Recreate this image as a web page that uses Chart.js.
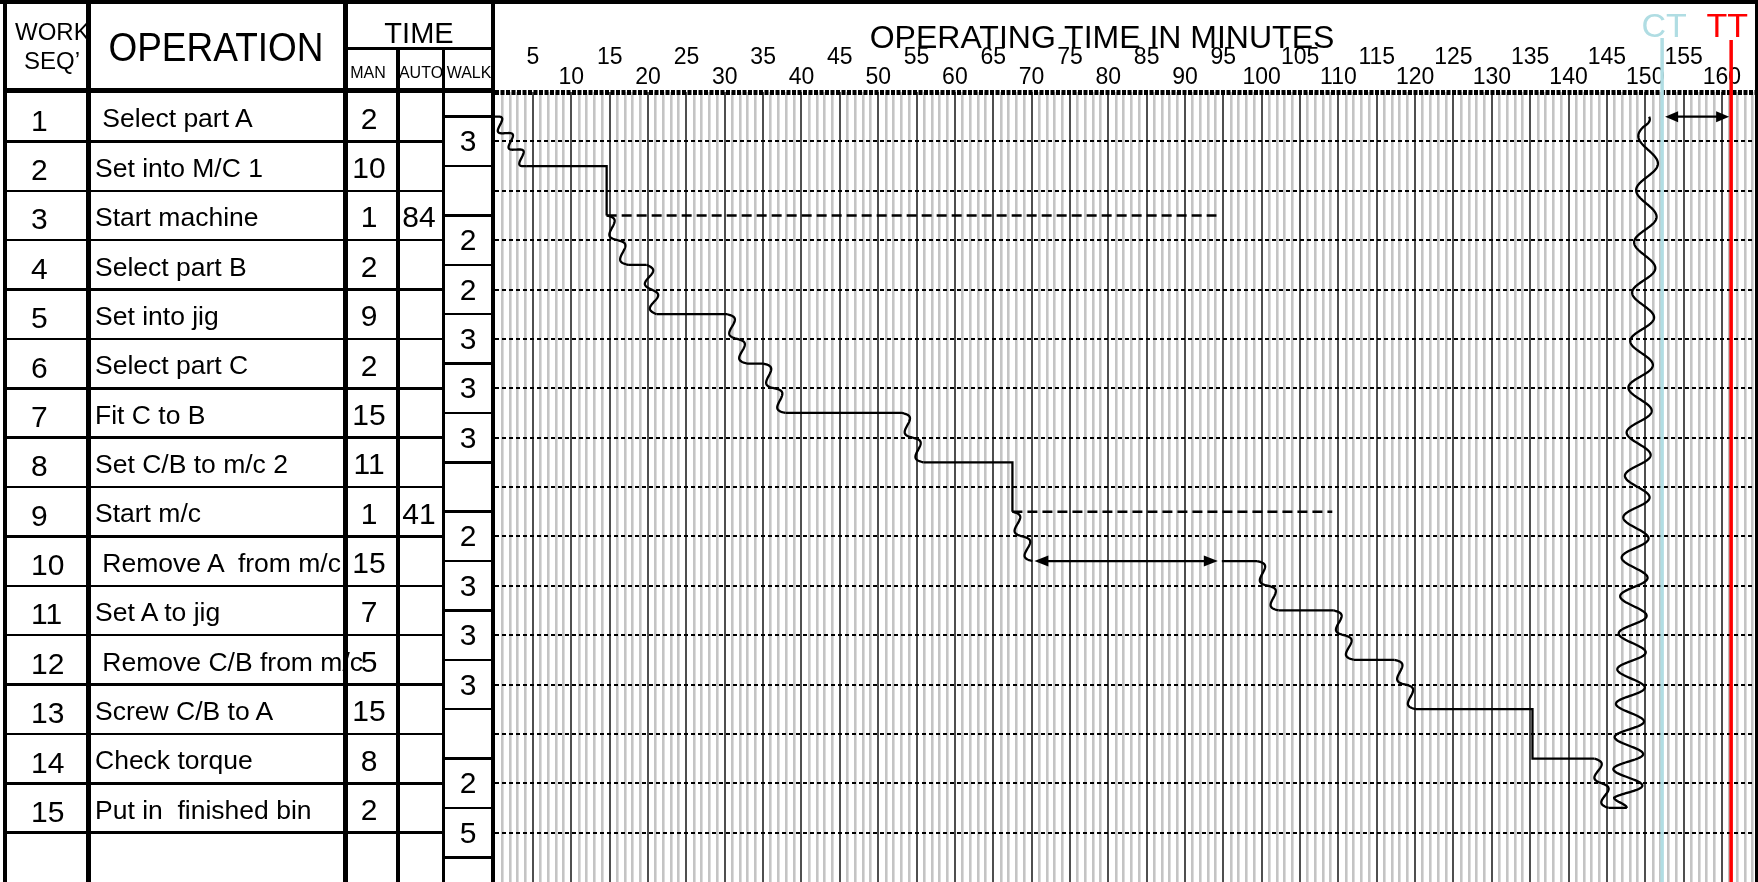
<!DOCTYPE html>
<html>
<head>
<meta charset="utf-8">
<title>Standard work combination sheet</title>
<script src="https://cdn.jsdelivr.net/npm/chart.js@4.4.1/dist/chart.umd.min.js"></script>
<style>
  html, body { margin: 0; padding: 0; background: #fff; }
  #sheet { position: relative; width: 1758px; height: 882px; overflow: hidden;
           font-family: "Liberation Sans", Arial, sans-serif; color: #000; }
  #chartWrap { position: absolute; left: 0; top: 0; width: 1758px; height: 882px; }
  #table { position: absolute; left: 0; top: 0; width: 1758px; height: 882px; }
  .t { position: absolute; white-space: pre; }
  .ln { position: absolute; background: #000; }
</style>
</head>
<body>
<div id="sheet">
  <div id="chartWrap"><canvas id="combChart"></canvas></div>
  <div id="table"></div>
</div>
<script>
// ---- work sequence table ----
const operations = [' Select part A', 'Set into M/C 1', 'Start machine', 'Select part B', 'Set into jig',
  'Select part C', 'Fit C to B', 'Set C/B to m/c 2', 'Start m/c', ' Remove A  from m/c', 'Set A to jig',
  ' Remove C/B from m/c', 'Screw C/B to A', 'Check torque', 'Put in  finished bin'];
const manTime = [2, 10, 1, 2, 9, 2, 15, 11, 1, 15, 7, 5, 15, 8, 2];
const autoTime = [null, null, 84, null, null, null, null, null, 41, null, null, null, null, null, null];
// walk boxes sit between row middles (box k spans row k+0.5 .. k+1.5)
const walkTime = [3, null, 2, 2, 3, 3, 3, null, 2, 3, 3, 3, null, 2, 5];

// ---- chart data (minutes / row positions) ----
const tickHigh = [5, 15, 25, 35, 45, 55, 65, 75, 85, 95, 105, 115, 125, 135, 145, 155];
const tickLow = [10, 20, 30, 40, 50, 60, 70, 80, 90, 100, 110, 120, 130, 140, 150, 160];

const pathMin = [0, 4.2, 14.6, 14.6, 17.4, 19.8, 21.1, 30.3, 32.9, 35, 37.9, 53.1, 55.9, 67.5, 67.5,
  70.1, 94.8, 99.4, 102.2, 109.4, 112, 117.3, 120.1, 135.3, 135.3, 143.4, 145.2, 147.6, 150.5];
const pathRow = [0.5, 1.5, 1.5, 2.5, 3.5, 3.5, 4.5, 4.5, 5.5, 5.5, 6.5, 6.5, 7.5, 7.5, 8.5,
  9.5, 9.5, 9.5, 10.5, 10.5, 11.5, 11.5, 12.5, 12.5, 13.5, 13.5, 14.5, 14.5, 0.5];
const pathKind = ['walk', 'man', 'drop', 'walk', 'man', 'walk', 'man', 'walk', 'man', 'walk', 'man',
  'walk', 'man', 'drop', 'walk', 'wait', 'man', 'walk', 'man', 'walk', 'man', 'walk', 'man', 'drop',
  'man', 'walk', 'man', 'return'];

const autoStart = [14.6, 67.5];
const autoEnd = [94.1, 109.2];
const autoRow = [2.5, 8.5];

const cycleTime = 152.2;
const taktTime = 161.2;
const gapRow = 0.5;

// ---- layout constants ----
const ROW_TOP = 92;
const ROW_H = 49.375;
const rowTop = k => ROW_TOP + k * ROW_H;
const FONT = '"Liberation Sans", Arial, sans-serif';

// ---- html table ----
const tableEl = document.getElementById('table');

function addText(text, x, cy, size, align, extra) {
  const d = document.createElement('div');
  d.className = 't';
  d.textContent = text;
  d.style.fontSize = size + 'px';
  d.style.lineHeight = size + 'px';
  d.style.top = (cy - size / 2) + 'px';
  if (align === 'center') {
    d.style.left = (x - 400) + 'px';
    d.style.width = '800px';
    d.style.textAlign = 'center';
  } else {
    d.style.left = x + 'px';
  }
  if (extra) Object.assign(d.style, extra);
  tableEl.appendChild(d);
}

function addLine(x, y, w, h) {
  const d = document.createElement('div');
  d.className = 'ln';
  d.style.left = x + 'px';
  d.style.top = y + 'px';
  d.style.width = w + 'px';
  d.style.height = h + 'px';
  tableEl.appendChild(d);
}

// header
addText('WORK', 15, 32, 24, 'left');
addText('SEQ\u2019', 52, 61, 24, 'center');
addText('OPERATION', 216, 47, 40, 'center', { transform: 'scaleX(0.925)' });
addText('TIME', 419, 33, 29, 'center');
addText('MAN', 368, 72.5, 16, 'center');
addText('AUTO', 421, 72.5, 16, 'center');
addText('WALK', 469, 72.5, 16, 'center');
addText('OPERATING TIME IN MINUTES', 1102, 37, 32, 'center');

// rows
operations.forEach((op, i) => {
  const cy = rowTop(i) + ROW_H / 2;
  addText(String(i + 1), 31, cy + 4, 30, 'left');
  addText(op, 95, cy + 2, 26.5, 'left');
  addText(String(manTime[i]), 369, cy + 2, 30, 'center');
  if (autoTime[i] !== null) addText(String(autoTime[i]), 419, cy + 2, 30, 'center');
});
walkTime.forEach((w, i) => {
  if (w !== null) addText(String(w), 468, rowTop(i) + ROW_H, 30, 'center');
});

// rules drawn over the text
addLine(0, 0, 1758, 4);
addLine(3, 0, 4, 882);
addLine(86, 0, 5, 882);
addLine(343, 0, 5, 882);
addLine(396, 48, 4, 834);
addLine(442, 48, 3, 834);
addLine(490.5, 0, 4.5, 882);
addLine(1755, 0, 3, 882);
addLine(3, 87.5, 490, 5);
addLine(348, 47, 143, 3);
for (let k = 1; k <= 15; k++) addLine(7, rowTop(k) - 1.25, 435, 2.5);
for (let k = 0; k <= 15; k++) addLine(445, rowTop(k) + ROW_H / 2 - 1.25, 46, 2.5);

// ---- drawing helpers ----
function drawWave(ctx, x0, y0, x1, y1, amp0, amp1, len0, len1, whole) {
  const dx = x1 - x0, dy = y1 - y0;
  const L = Math.hypot(dx, dy);
  const ux = dx / L, uy = dy / L;
  const nx = uy, ny = -ux;
  const steps = Math.max(30, Math.round(L * 1.5));
  const n = Math.max(1, Math.round(L / len0));
  let phase = 0;
  ctx.beginPath();
  ctx.moveTo(x0, y0);
  for (let i = 1; i <= steps; i++) {
    const t = i / steps;
    if (whole) phase = 2 * Math.PI * n * t;
    else phase += 2 * Math.PI * (L / steps) / (len0 + (len1 - len0) * t);
    const taper = whole ? 1 : Math.min(1, t * L / 10, (1 - t) * L / 10);
    const a = (amp0 + (amp1 - amp0) * t) * Math.sin(phase) * taper;
    ctx.lineTo(x0 + ux * L * t + nx * a, y0 + uy * L * t + ny * a);
  }
  ctx.stroke();
}

function drawArrow(ctx, x0, x1, y, headLen, headW) {
  ctx.beginPath();
  ctx.moveTo(x0 + headLen * 0.8, y);
  ctx.lineTo(x1 - headLen * 0.8, y);
  ctx.stroke();
  [[x0, 1], [x1, -1]].forEach(([x, dir]) => {
    ctx.beginPath();
    ctx.moveTo(x, y);
    ctx.lineTo(x + dir * headLen, y - headW);
    ctx.lineTo(x + dir * headLen, y + headW);
    ctx.closePath();
    ctx.fill();
  });
}

// walking (wavy), waiting (double arrow) parts of the path
const walkPlugin = {
  id: 'walkPath',
  afterDatasetsDraw(chart) {
    const pts = chart.getDatasetMeta(0).data;
    const ctx = chart.ctx;
    ctx.save();
    ctx.strokeStyle = '#000';
    ctx.fillStyle = '#000';
    ctx.lineWidth = 2.3;
    ctx.lineJoin = 'round';
    pathKind.forEach((kind, i) => {
      const a = pts[i], b = pts[i + 1];
      if (kind === 'walk') drawWave(ctx, a.x, a.y, b.x, b.y, 5.5, 5.5, 22, 22, true);
      else if (kind === 'return') drawWave(ctx, a.x, a.y, b.x, b.y, 15, 10, 30, 56, false);
      else if (kind === 'wait') drawArrow(ctx, a.x + 2, b.x - 4, a.y, 14, 5.5);
    });
    ctx.restore();
  }
};

// cycle time / takt time markers
const taktPlugin = {
  id: 'ctTt',
  afterDraw(chart) {
    const { ctx, chartArea, scales: { x, y } } = chart;
    const ctPx = x.getPixelForValue(cycleTime);
    const ttPx = x.getPixelForValue(taktTime);
    ctx.save();
    [[ctPx, '#b0dde3', 'CT', 38, 2], [ttPx, '#ff0000', 'TT', 40, -4]].forEach(([px, col, lab, top, dx]) => {
      ctx.strokeStyle = col;
      ctx.lineWidth = 3.5;
      ctx.beginPath();
      ctx.moveTo(px, top);
      ctx.lineTo(px, chartArea.bottom);
      ctx.stroke();
      ctx.fillStyle = col;
      ctx.font = '34px ' + FONT;
      ctx.textAlign = 'center';
      ctx.textBaseline = 'alphabetic';
      ctx.fillText(lab, px + dx, 37);
    });
    const ay = y.getPixelForValue(gapRow);
    ctx.strokeStyle = '#000';
    ctx.fillStyle = '#000';
    ctx.lineWidth = 2.3;
    drawArrow(ctx, ctPx + 3, ttPx - 2, ay, 13, 5.5);
    ctx.restore();
  }
};

// ---- chart ----
const datasets = [{
  data: pathMin.map((m, i) => ({ x: m, y: pathRow[i] })),
  showLine: true,
  borderColor: '#000',
  borderWidth: 2.3,
  pointRadius: 0,
  segment: {
    borderColor: c => (pathKind[c.p0DataIndex] === 'man' || pathKind[c.p0DataIndex] === 'drop') ? '#000' : 'rgba(0,0,0,0)'
  }
}];
autoStart.forEach((s, i) => {
  datasets.push({
    data: [{ x: s, y: autoRow[i] }, { x: autoEnd[i], y: autoRow[i] }],
    showLine: true,
    borderColor: '#000',
    borderWidth: 2.5,
    borderDash: [10, 5],
    pointRadius: 0
  });
});

new Chart(document.getElementById('combChart'), {
  type: 'scatter',
  data: { datasets },
  options: {
    responsive: true,
    maintainAspectRatio: false,
    animation: false,
    layout: { padding: { left: 494.66, top: 0, right: 0, bottom: 0 } },
    plugins: { legend: { display: false }, tooltip: { enabled: false } },
    scales: {
      x: {
        type: 'linear',
        position: 'top',
        min: 0,
        max: 164.7,
        afterFit: s => { s.height = ROW_TOP; },
        ticks: {
          stepSize: 1,
          includeBounds: false,
          autoSkip: false,
          maxRotation: 0,
          minRotation: 0,
          padding: 5,
          color: '#000',
          font: { family: FONT, size: 23, lineHeight: 0.85 },
          callback: v => tickHigh.includes(v) ? [String(v), ''] : (tickLow.includes(v) ? ['', String(v)] : '')
        },
        grid: {
          drawTicks: false,
          z: -2,
          color: c => {
            const v = c.tick ? c.tick.value : 0;
            if (!Number.isInteger(v) || v === 0) return 'rgba(0,0,0,0)';
            return v % 5 === 0 ? '#4f4f4f' : '#c4c4c4';
          },
          lineWidth: c => (c.tick && c.tick.value % 5 === 0 ? 2 : 2.6)
        },
        border: { display: false }
      },
      y: {
        type: 'linear',
        min: 0,
        max: 16,
        reverse: true,
        afterFit: s => { s.width = 0; },
        ticks: { display: false, stepSize: 1 },
        grid: {
          drawTicks: false,
          z: -1,
          color: c => (c.tick && c.tick.value === 16 ? 'rgba(0,0,0,0)' : '#000'),
          lineWidth: c => (c.tick && c.tick.value === 0 ? 5 : 2)
        },
        border: {
          display: false,
          dash: c => (c.tick && c.tick.value === 0 ? [4, 1.5] : [4, 3])
        }
      }
    }
  },
  plugins: [walkPlugin, taktPlugin]
});
</script>
</body>
</html>
